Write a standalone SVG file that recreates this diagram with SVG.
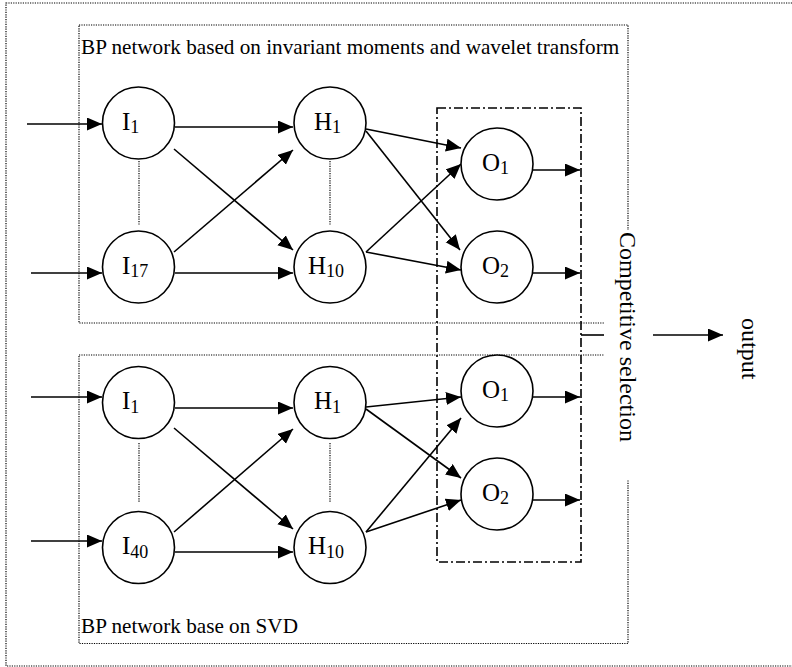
<svg xmlns="http://www.w3.org/2000/svg" width="792" height="667" viewBox="0 0 792 667">
<style>
.dot{fill:none;stroke:#000;stroke-width:1.2;stroke-dasharray:1.2,1.2}
.dd{fill:none;stroke:#000;stroke-width:1.6;stroke-dasharray:9,3,2,3}
.node circle{fill:#fff;stroke:#000;stroke-width:1.6}
.lbl{font-family:"Liberation Serif","Times New Roman",serif;font-size:25px;fill:#000}
.sub{font-size:18px}
.cap{font-family:"Liberation Serif","Times New Roman",serif;font-size:21.2px;fill:#000}
.rot{font-family:"Liberation Serif","Times New Roman",serif;font-size:24px;fill:#000}
.edges line{stroke:#000;stroke-width:1.6;marker-end:url(#ah)}
.plain{stroke:#000;stroke-width:1.6;fill:none}
</style>
<defs>
<marker id="ah" markerWidth="16" markerHeight="14" refX="15" refY="6.5" orient="auto" markerUnits="userSpaceOnUse">
<path d="M0,0 L15,6.5 L0,13 z" fill="#000"/>
</marker>
</defs>
<rect width="792" height="667" fill="#fff"/>

<g id="frames">
<rect class="dot" x="6" y="3" width="800" height="663"/>
<rect class="dot" x="79" y="25" width="549" height="298"/>
<rect class="dot" x="79" y="355" width="549" height="288.5"/>
<rect class="dd" x="437" y="108" width="144" height="454"/>
<line class="dot" x1="139" y1="161" x2="139" y2="225"/>
<line class="dot" x1="330" y1="161" x2="330" y2="225"/>
<line class="dot" x1="139" y1="443" x2="139" y2="503"/>
<line class="dot" x1="330" y1="443" x2="330" y2="503"/>
</g>

<g id="labels">
<text class="cap" x="81" y="54">BP network based on invariant moments and wavelet transform</text>
<text class="cap" x="81" y="633">BP network base on SVD</text>
</g>

<g id="competitive">
<rect x="604" y="230" width="49" height="250" fill="#fff"/>
<text class="rot" transform="translate(620,232) rotate(90)">Competitive selection</text>
</g>

<g id="output">
<text class="rot" transform="translate(742,318) rotate(90)">output</text>
</g>

<g id="connectors" class="edges">
<line x1="27" y1="124" x2="102" y2="124"/>
<line x1="31" y1="273" x2="102" y2="273"/>
<line x1="175" y1="127" x2="293" y2="127"/>
<line x1="174" y1="149" x2="293" y2="250"/>
<line x1="174" y1="252" x2="293" y2="150"/>
<line x1="175" y1="273" x2="293" y2="273"/>
<line x1="366" y1="129" x2="461" y2="148"/>
<line x1="366" y1="131" x2="460" y2="250"/>
<line x1="366" y1="252" x2="461" y2="164"/>
<line x1="366" y1="252" x2="461" y2="270"/>
<line x1="533" y1="170" x2="580" y2="170"/>
<line x1="533" y1="273" x2="580" y2="273"/>

<line x1="31" y1="397" x2="102" y2="397"/>
<line x1="31" y1="541" x2="102" y2="541"/>
<line x1="175" y1="408" x2="293" y2="408"/>
<line x1="174" y1="428" x2="293" y2="529"/>
<line x1="174" y1="532" x2="293" y2="429"/>
<line x1="175" y1="552" x2="293" y2="552"/>
<line x1="366" y1="407" x2="461" y2="397"/>
<line x1="366" y1="409" x2="461" y2="478"/>
<line x1="366" y1="532" x2="461" y2="418"/>
<line x1="366" y1="532" x2="461" y2="500"/>
<line x1="533" y1="397" x2="580" y2="397"/>
<line x1="533" y1="500" x2="580" y2="500"/>

<line x1="653" y1="335" x2="723" y2="335"/>
<path class="plain" d="M581,335 H604"/>
</g>

<g id="n_I1a" class="node"><circle cx="138.5" cy="123" r="36"/><text class="lbl" x="122" y="129.5">I<tspan class="sub" dy="3.5">1</tspan></text></g>
<g id="n_I17" class="node"><circle cx="138.5" cy="267" r="36"/><text class="lbl" x="122" y="273.5">I<tspan class="sub" dy="3.5">17</tspan></text></g>
<g id="n_H1a" class="node"><circle cx="330" cy="123" r="36"/><text class="lbl" x="314" y="129.5">H<tspan class="sub" dy="3.5">1</tspan></text></g>
<g id="n_H10a" class="node"><circle cx="330" cy="267" r="36"/><text class="lbl" x="308" y="273.5">H<tspan class="sub" dy="3.5">10</tspan></text></g>
<g id="n_O1a" class="node"><circle cx="497" cy="164" r="36"/><text class="lbl" x="482" y="170.5">O<tspan class="sub" dy="3.5">1</tspan></text></g>
<g id="n_O2a" class="node"><circle cx="497" cy="267" r="36"/><text class="lbl" x="482" y="273.5">O<tspan class="sub" dy="3.5">2</tspan></text></g>

<g id="n_I1b" class="node"><circle cx="138.5" cy="402.5" r="36"/><text class="lbl" x="122" y="409">I<tspan class="sub" dy="3.5">1</tspan></text></g>
<g id="n_I40" class="node"><circle cx="138.5" cy="547.5" r="36"/><text class="lbl" x="122" y="554">I<tspan class="sub" dy="3.5">40</tspan></text></g>
<g id="n_H1b" class="node"><circle cx="330" cy="402.5" r="36"/><text class="lbl" x="314" y="409">H<tspan class="sub" dy="3.5">1</tspan></text></g>
<g id="n_H10b" class="node"><circle cx="330" cy="547.5" r="36"/><text class="lbl" x="308" y="554">H<tspan class="sub" dy="3.5">10</tspan></text></g>
<g id="n_O1b" class="node"><circle cx="497" cy="391" r="36"/><text class="lbl" x="482" y="397.5">O<tspan class="sub" dy="3.5">1</tspan></text></g>
<g id="n_O2b" class="node"><circle cx="497" cy="494" r="36"/><text class="lbl" x="482" y="500.5">O<tspan class="sub" dy="3.5">2</tspan></text></g>
</svg>
